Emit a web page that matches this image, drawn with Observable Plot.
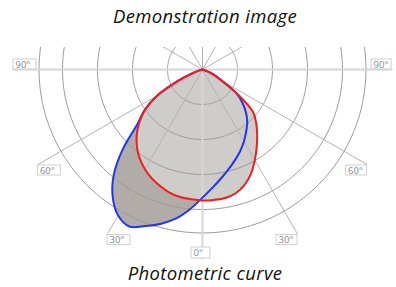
<!DOCTYPE html>
<html><head><meta charset="utf-8">
<script src="https://cdn.jsdelivr.net/npm/d3@7"></script>
<script src="https://cdn.jsdelivr.net/npm/@observablehq/plot@0.6"></script>
<style>
body{margin:0;background:#fff;width:396px;height:287px;overflow:hidden;position:relative;font-family:"Open Sans",sans-serif}
#title,#caption{position:absolute;left:0;width:410px;text-align:center;font-style:italic;font-size:18.5px;letter-spacing:0.35px;color:#111;line-height:20px;white-space:nowrap}
#title{top:5.5px}
#caption{top:262.8px}
#chart{position:absolute;left:0;top:47px}
</style></head><body>
<div id="title">Demonstration image</div>
<div id="chart"></div>
<div id="caption">Photometric curve</div>
<script>
// Photometric data: angle (deg, 0 = straight down, negative = left) and intensity
const blueAngles = [-90, -75, -70, -65, -60, -55, -50, -45, -40, -35, -30, -25, -20, -15, -10, -5, 0, 5, 10, 15, 20, 25, 30, 35, 40, 45, 50, 55, 60, 65, 70, 90];
const blueValues = [0, 10, 30, 80, 150, 202, 243, 322, 395, 447, 482, 495, 476, 456, 432, 400, 366, 338, 314, 293, 274, 256, 237, 217, 199, 176, 150, 118, 62, 35, 12, 0];
const redAngles = [-90, -75, -70, -65, -60, -55, -50, -45, -40, -35, -30, -25, -20, -15, -10, -5, 0, 5, 10, 15, 20, 25, 30, 35, 40, 45, 50, 55, 60, 65, 70, 90];
const redValues = [0, 10, 30, 80, 150, 200, 236, 266, 291, 312, 329, 343, 354, 364, 370, 372, 374, 374, 373, 366, 351, 328, 299, 270, 243, 217, 188, 123, 62, 35, 12, 0];
const ringValues = [100, 200, 300, 400, 467];
const spokeAngles = [-150, -120, -90, -60, -30, 0, 30, 60, 90, 120, 150, 180];
const tickAngles = [-90, -60, -30, 0, 30, 60, 90];
const tickLabels = ["90°", "60°", "30°", "0°", "30°", "60°", "90°"];
const spokeLength = 543;

// layout
const k = 0.35;          // pixels per intensity unit
const W = 396, H = 215, cx = 202, cy = 22;
const rad = a => a * Math.PI / 180;
const toXY = (a, r) => ({x: r * Math.sin(rad(a)), y: -r * Math.cos(rad(a))});

const blue = blueAngles.map((a, i) => toXY(a, blueValues[i]));
const red = redAngles.map((a, i) => toXY(a, redValues[i]));
const rings = ringValues.flatMap(v => d3.range(0, 361, 1).map(t => ({ring: v, ...toXY(t, v)})));
const spokes = spokeAngles.map(a => ({a, ...toXY(a, spokeLength)}));
const mainSpokes = spokes.filter(s => s.a === 0 || Math.abs(s.a) === 90);
const minorSpokes = spokes.filter(s => !(s.a === 0 || Math.abs(s.a) === 90));

// label box offsets in pixels (page-down y) relative to the spoke end
const boxOffset = a => {
  if (a === -90) return [1, 24, -10, 0];
  if (a === 90) return [-21, -1, -10, 0];
  if (a === 0) return [-11, 8, -12, -1];
  if (a < 0) return [0, 23, 1, 11];
  return [-21, 0, 1, 11];
};
const boxes = tickAngles.map((a, i) => {
  const e = toXY(a, spokeLength);
  const [dx1, dx2, dy1, dy2] = boxOffset(a);
  return {label: tickLabels[i], x1: e.x + dx1 / k, x2: e.x + dx2 / k, y1: e.y - dy2 / k, y2: e.y - dy1 / k};
});

const chart = Plot.plot({
  width: W, height: H, margin: 0,
  x: {domain: [-cx / k, (W - cx) / k], axis: null},
  y: {domain: [-(H - cy) / k, cy / k], axis: null},
  style: {background: "transparent"},
  marks: [
    Plot.line(blue, {x: "x", y: "y", curve: "catmull-rom", fill: "#b1aca7", stroke: "none"}),
    Plot.line(red, {x: "x", y: "y", curve: "catmull-rom", fill: "#cfcdca", stroke: "none"}),
    Plot.line(rings, {x: "x", y: "y", z: "ring", stroke: "#9a9a9a", strokeWidth: 1, clip: true}),
    Plot.link(minorSpokes, {x1: () => 0, y1: () => 0, x2: "x", y2: "y", stroke: "#b4b4b4", strokeWidth: 1, clip: true}),
    Plot.link(mainSpokes, {x1: () => 0, y1: () => 0, x2: "x", y2: "y", stroke: "#d6d6d6", strokeWidth: 2, clip: true}),
    Plot.line(blue, {x: "x", y: "y", curve: "catmull-rom", stroke: "#2036f0", strokeWidth: 2}),
    Plot.line(red, {x: "x", y: "y", curve: "catmull-rom", stroke: "#f21c1c", strokeWidth: 2}),
    Plot.rect(boxes, {x1: "x1", x2: "x2", y1: "y1", y2: "y2", fill: "white", stroke: "#cfcfcf", strokeWidth: 1}),
    Plot.text(boxes, {x: "x1", y: d => (d.y1 + d.y2) / 2, text: "label", textAnchor: "start", dx: 2, fill: "#8a8a8a", fontSize: 9.5, fontFamily: "Open Sans"})
  ]
});
document.getElementById("chart").appendChild(chart);
</script>
</body></html>
